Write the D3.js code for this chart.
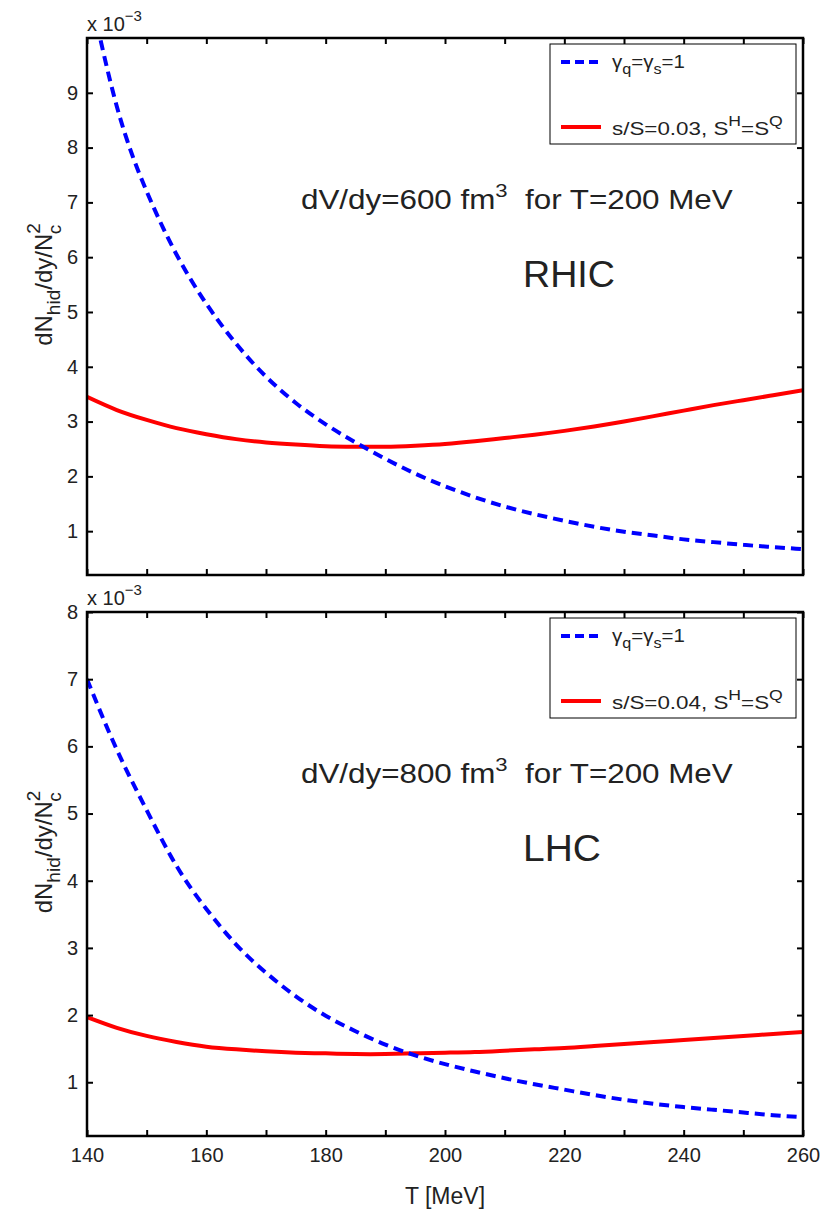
<!DOCTYPE html>
<html>
<head>
<meta charset="utf-8">
<script src="https://cdn.jsdelivr.net/npm/d3@7"></script>
<style>
  body { margin: 0; background: #fff; }
  svg text { font-family: "Liberation Sans", Arial, sans-serif; fill: #222; }
</style>
</head>
<body>
<div id="area"></div>
<script>
// temperature grid [MeV]
const temps = [140, 145, 150, 155, 160, 165, 170, 175, 180, 185, 190, 195, 200,
               205, 210, 215, 220, 225, 230, 235, 240, 245, 250, 255, 260];

// RHIC panel (x 10^-3)
const rhicEq = [11.1, 8.75, 7.2, 6.05, 5.15, 4.42, 3.82, 3.34, 2.95, 2.62, 2.32, 2.05, 1.82,
                1.62, 1.45, 1.31, 1.19, 1.08, 0.99, 0.92, 0.85, 0.8, 0.75, 0.71, 0.67];
const rhicNeq = [3.45, 3.21, 3.03, 2.88, 2.77, 2.68, 2.62, 2.58, 2.55, 2.54, 2.54, 2.56, 2.59,
                 2.64, 2.70, 2.76, 2.83, 2.91, 3.00, 3.10, 3.20, 3.30, 3.39, 3.48, 3.57];

// LHC panel (x 10^-3)
const lhcEq = [7.0, 5.95, 5.05, 4.22, 3.58, 3.05, 2.63, 2.28, 1.99, 1.76, 1.56, 1.40, 1.27,
               1.16, 1.06, 0.97, 0.89, 0.81, 0.74, 0.68, 0.63, 0.59, 0.55, 0.51, 0.48];
const lhcNeq = [1.97, 1.81, 1.69, 1.60, 1.53, 1.49, 1.46, 1.44, 1.43, 1.42, 1.42, 1.43, 1.44,
                1.45, 1.47, 1.49, 1.51, 1.54, 1.57, 1.60, 1.63, 1.66, 1.69, 1.72, 1.75];

const xTicks = [140, 150, 160, 170, 180, 190, 200, 210, 220, 230, 240, 250, 260];
const xTickLabels = [140, 160, 180, 200, 220, 240, 260];

const panels = [
  { name: 'RHIC', eq: rhicEq, neq: rhicNeq, yDomain: [0.2, 10], yTicks: [1, 2, 3, 4, 5, 6, 7, 8, 9],
    top: 38, bottom: 575, sLabel: 's/S=0.03, ', vol: '600', xlabels: false },
  { name: 'LHC', eq: lhcEq, neq: lhcNeq, yDomain: [0.2, 8], yTicks: [1, 2, 3, 4, 5, 6, 7, 8],
    top: 612, bottom: 1136, sLabel: 's/S=0.04, ', vol: '800', xlabels: true }
];

const width = 825, height = 1212;
const left = 87, right = 803;
const tickLen = 6;

const svg = d3.select('#area').append('svg')
  .attr('width', width).attr('height', height);

const x = d3.scaleLinear().domain([140, 260]).range([left, right]);

// stretch a text horizontally to a target width (the original font is wider)
function fitWidth(sel, w) {
  const bw = sel.node().getBBox().width;
  const x0 = +sel.attr('x');
  sel.attr('transform', `translate(${x0},0) scale(${w / bw},1) translate(${-x0},0)`);
}

panels.forEach((p, i) => {
  const y = d3.scaleLinear().domain(p.yDomain).range([p.bottom, p.top]);
  const g = svg.append('g');

  g.append('clipPath').attr('id', 'clip' + i)
    .append('rect').attr('x', left).attr('y', p.top)
    .attr('width', right - left).attr('height', p.bottom - p.top);

  const line = d3.line()
    .x((d, j) => x(temps[j]))
    .y(d => y(d))
    .curve(d3.curveNatural);

  const plot = g.append('g').attr('clip-path', `url(#clip${i})`);
  plot.append('path').datum(p.neq)
    .attr('d', line).attr('fill', 'none')
    .attr('stroke', '#ff0000').attr('stroke-width', 4);
  plot.append('path').datum(p.eq)
    .attr('d', line).attr('fill', 'none')
    .attr('stroke', '#0000ff').attr('stroke-width', 4)
    .attr('stroke-dasharray', '10,6');

  // axes: ticks inside on all four sides
  const axB = d3.axisBottom(x).tickValues(xTicks).tickSizeInner(-tickLen).tickSizeOuter(0).tickPadding(12)
    .tickFormat(d => (p.xlabels && xTickLabels.includes(d)) ? d : '');
  const axT = d3.axisTop(x).tickValues(xTicks).tickSizeInner(-tickLen).tickSizeOuter(0).tickFormat('');
  const axL = d3.axisLeft(y).tickValues(p.yTicks).tickSizeInner(-tickLen).tickSizeOuter(0).tickPadding(9);
  const axR = d3.axisRight(y).tickValues(p.yTicks).tickSizeInner(-tickLen).tickSizeOuter(0).tickFormat('');

  [[axB, `translate(0,${p.bottom})`], [axT, `translate(0,${p.top})`],
   [axL, `translate(${left},0)`], [axR, `translate(${right},0)`]].forEach(([ax, tr]) => {
    const a = g.append('g').attr('transform', tr).call(ax);
    a.select('.domain').remove();
    a.selectAll('line').attr('stroke', '#000').attr('stroke-width', 2);
    a.selectAll('text').style('font-size', '20px').attr('fill', '#222');
  });

  g.append('rect').attr('x', left).attr('y', p.top)
    .attr('width', right - left).attr('height', p.bottom - p.top)
    .attr('fill', 'none').attr('stroke', '#000').attr('stroke-width', 2.5);

  // exponent label
  const ex = g.append('text').attr('x', left).attr('y', p.top - 7).style('font-size', '20px');
  ex.append('tspan').text('x 10');
  ex.append('tspan').attr('dy', -10).style('font-size', '15px').text('−3');

  // y label
  const yl = g.append('text')
    .attr('transform', `translate(52,${(p.top + p.bottom) / 2 - 22}) rotate(-90)`)
    .attr('text-anchor', 'middle').style('font-size', '24px');
  yl.append('tspan').text('dN');
  yl.append('tspan').attr('dy', 8).style('font-size', '19px').text('hid');
  yl.append('tspan').attr('dy', -8).text('/dy/N');
  yl.append('tspan').attr('dy', -12).style('font-size', '19px').text('2');
  yl.append('tspan').attr('dx', -11).attr('dy', 21).style('font-size', '19px').text('c');

  // annotations
  const ann = g.append('text').attr('x', 301).attr('y', p.top + 171).style('font-size', '27px');
  ann.append('tspan').text(`dV/dy=${p.vol} fm`);
  ann.append('tspan').attr('dy', -12).style('font-size', '19px').text('3');
  ann.append('tspan').attr('dy', 12).text('\u00a0 for T=200 MeV');
  fitWidth(ann, 432);
  const nm = g.append('text').attr('x', 523).attr('y', p.top + 249).style('font-size', '37px').text(p.name);
  fitWidth(nm, p.name === 'RHIC' ? 92 : 78);

  // legend
  const lx = 550, ly = p.top + 6, lw = 246, lh = 100;
  const lg = g.append('g');
  lg.append('rect').attr('x', lx).attr('y', ly).attr('width', lw).attr('height', lh)
    .attr('fill', '#fff').attr('stroke', '#000').attr('stroke-width', 1);
  lg.append('line').attr('x1', lx + 11).attr('x2', lx + 51).attr('y1', ly + 18).attr('y2', ly + 18)
    .attr('stroke', '#0000ff').attr('stroke-width', 4).attr('stroke-dasharray', '9,5');
  lg.append('line').attr('x1', lx + 11).attr('x2', lx + 51).attr('y1', ly + 83).attr('y2', ly + 83)
    .attr('stroke', '#ff0000').attr('stroke-width', 4);
  const t1 = lg.append('text').attr('x', lx + 62).attr('y', ly + 24).style('font-size', '19px');
  t1.append('tspan').text('γ');
  t1.append('tspan').attr('dy', 6).style('font-size', '15px').text('q');
  t1.append('tspan').attr('dy', -6).text('=γ');
  t1.append('tspan').attr('dy', 6).style('font-size', '15px').text('s');
  t1.append('tspan').attr('dy', -6).text('=1');
  fitWidth(t1, 73);
  const t2 = lg.append('text').attr('x', lx + 62).attr('y', ly + 91).style('font-size', '19px');
  t2.append('tspan').text(p.sLabel + 'S');
  t2.append('tspan').attr('dy', -9).style('font-size', '15px').text('H');
  t2.append('tspan').attr('dy', 9).text('=S');
  t2.append('tspan').attr('dy', -9).style('font-size', '15px').text('Q');
  fitWidth(t2, 171);
});

// x axis title
svg.append('text').attr('x', (left + right) / 2).attr('y', 1204)
  .attr('text-anchor', 'middle').style('font-size', '23px').text('T [MeV]');
</script>
</body>
</html>
